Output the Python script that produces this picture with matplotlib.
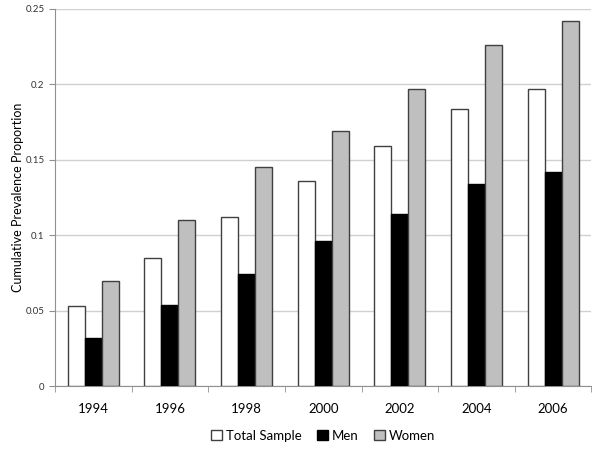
import numpy as np
import matplotlib
matplotlib.use("Agg")
import matplotlib.pyplot as plt
from matplotlib.ticker import FixedLocator, FuncFormatter

plt.rcParams['font.family'] = ['Lato', 'DejaVu Sans']

years = ["1994", "1996", "1998", "2000", "2002", "2004", "2006"]
total = [0.053, 0.085, 0.112, 0.136, 0.159, 0.184, 0.197]
men = [0.032, 0.054, 0.074, 0.096, 0.114, 0.134, 0.142]
women = [0.070, 0.110, 0.145, 0.169, 0.197, 0.226, 0.242]

fig = plt.figure(figsize=(6, 4.5), dpi=100)
ax = fig.add_axes([0.0917, 0.142, 0.894, 0.838])

x = np.arange(len(years))
w = 0.222
edge = "#404040"
ax.bar(x - w, total, w, color="white", edgecolor=edge, linewidth=1, label="Total Sample", zorder=3)
ax.bar(x, men, w, color="black", edgecolor="black", linewidth=1, label="Men", zorder=3)
ax.bar(x + w, women, w, color="#bfbfbf", edgecolor=edge, linewidth=1, label="Women", zorder=3)

ax.set_xlim(-0.5, len(years) - 0.5)
ax.set_ylim(0, 0.25)
ax.set_yticks([0, 0.05, 0.1, 0.15, 0.2, 0.25])
ax.yaxis.set_major_formatter(FuncFormatter(lambda v, p: "0" if v == 0 else ("%.2f" % v).rstrip("0")))
ax.grid(axis="y", color="#d0d0d0", linewidth=1, zorder=0)

ax.set_xticks(x)
ax.set_xticklabels(years, fontsize=9.5)
ax.tick_params(axis="x", which="major", length=0, pad=12)
ax.xaxis.set_minor_locator(FixedLocator(np.arange(-0.5, len(years), 1.0)))
ax.tick_params(axis="x", which="minor", length=4, color="#909090")
ax.tick_params(axis="y", labelsize=7, length=4, color="#909090", labelcolor="#333333")

for s in ["top", "right"]:
    ax.spines[s].set_visible(False)
for s in ["left", "bottom"]:
    ax.spines[s].set_color("#909090")

ax.set_ylabel("Cumulative Prevalence Proportion", fontsize=9)
ax.yaxis.set_label_coords(-0.058, 0.5)

ax.legend(loc="upper center", bbox_to_anchor=(0.5, -0.085), ncol=3, frameon=False,
          fontsize=9.5, handlelength=0.8, handleheight=0.8, handletextpad=0.3, columnspacing=1.2)

fig.savefig("out.png", dpi=100)
